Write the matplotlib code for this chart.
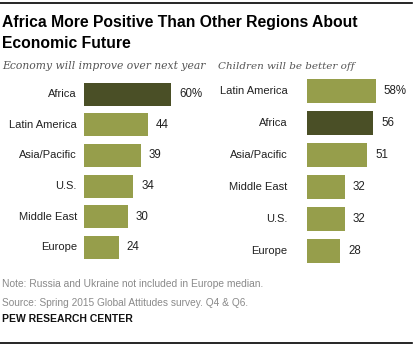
import matplotlib
matplotlib.use("Agg")
import matplotlib.pyplot as plt
from matplotlib.lines import Line2D

# Data
left_title = "Economy will improve over next year"
left_cats = ["Africa", "Latin America", "Asia/Pacific", "U.S.", "Middle East", "Europe"]
left_vals = [60, 44, 39, 34, 30, 24]
right_title = "Children will be better off"
right_cats = ["Latin America", "Africa", "Asia/Pacific", "Middle East", "U.S.", "Europe"]
right_vals = [58, 56, 51, 32, 32, 28]
highlight = "Africa"

W, H = 420, 347
LIGHT = "#969E4B"
DARK = "#4A4F26"
SANS = ["Liberation Sans", "DejaVu Sans"]

fig = plt.figure(figsize=(W / 100, H / 100), dpi=100)


def px_axes(x0, top, w, h):
    return fig.add_axes([x0 / W, (H - top - h) / H, w / W, h / H])


def fit_text(x, y, s, target_w, **kw):
    t = fig.text(x / W, 1 - y / H, s, va="baseline", **kw)
    r = fig.canvas.get_renderer()
    bb = t.get_window_extent(renderer=r)
    t.set_fontsize(t.get_fontsize() * target_w / bb.width)
    return t


def panel(x0, top, pitch, scale, cats, vals, label_gap, barh):
    n = len(cats)
    ax = px_axes(x0, top, 100 * scale, n * pitch)
    colors = [DARK if c == highlight else LIGHT for c in cats]
    ax.barh(range(n), vals, height=barh, color=colors)
    ax.set_xlim(0, 100)
    ax.set_ylim(n - 0.5, -0.5)
    ax.axis("off")
    for i, (c, v) in enumerate(zip(cats, vals)):
        ax.annotate(c, (0, i), xytext=(-label_gap, 0), textcoords="offset pixels",
                    ha="right", va="center", fontsize=8, color="#222222", family=SANS)
        ax.annotate(f"{v}%" if i == 0 else f"{v}", (v, i), xytext=(8, 0),
                    textcoords="offset pixels", ha="left", va="center",
                    fontsize=8.3, color="#222222", family=SANS)
    return ax


panel(84, 79, 30.6, 1.45, left_cats, left_vals, 7, 0.75)
panel(306.7, 74.85, 32, 1.19, right_cats, right_vals, 19, 0.74)

# Title
t1 = fit_text(2, 26.7, "Africa More Positive Than Other Regions About", 353,
              fontsize=12, fontweight="bold", family=SANS, color="black")
fig.text(2 / W, 1 - 48.3 / H, "Economic Future", fontsize=t1.get_fontsize(),
         fontweight="bold", family=SANS, va="baseline", color="black")
fit_text(2, 69.3, left_title, 203, fontsize=9, style="italic",
         family=["DejaVu Serif"], color="#555555")
fit_text(218, 69.3, right_title, 137, fontsize=9, style="italic",
         family=["DejaVu Serif"], color="#555555")

# Notes
fit_text(2, 287.3, "Note: Russia and Ukraine not included in Europe median.", 262,
         fontsize=7, color="#8a8a8a", family=SANS)
fit_text(2, 305.7, "Source: Spring 2015 Global Attitudes survey. Q4 & Q6.", 245,
         fontsize=7, color="#8a8a8a", family=SANS)
fit_text(2, 321.7, "PEW RESEARCH CENTER", 131, fontsize=7, fontweight="bold",
         color="#111111", family=SANS)

# Rules
for y in (3, 342.5):
    fig.add_artist(Line2D([0, 412 / W], [1 - y / H, 1 - y / H], color="black", lw=1.2))

fig.savefig("out.png", dpi=100, facecolor="white")
